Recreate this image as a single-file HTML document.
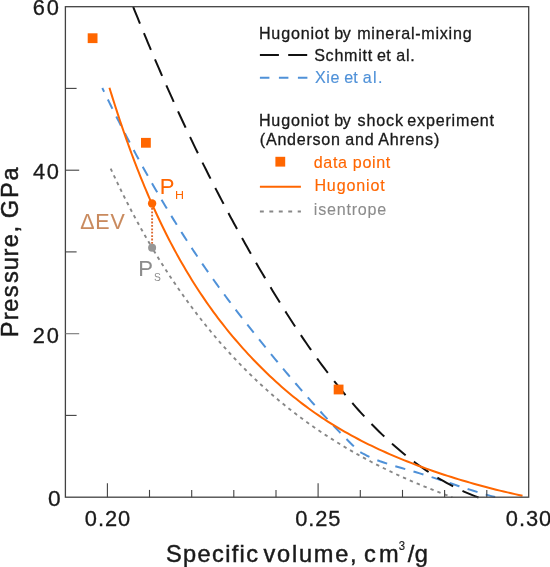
<!DOCTYPE html>
<html lang="en"><head><meta charset="utf-8"><title>Hugoniot chart</title>
<style>html,body{margin:0;padding:0;background:#fff}svg{display:block;will-change:transform}</style></head>
<body>
<svg width="550" height="567" viewBox="0 0 550 567" font-family="'Liberation Sans', Arial, Helvetica, sans-serif">
<rect width="550" height="567" fill="#ffffff"/>
<g fill="none" stroke-linejoin="round">
<path d="M110.69 168.53 L111.96 171.30 L113.24 174.06 L114.53 176.83 L115.83 179.59 L117.15 182.34 L118.47 185.10 L119.80 187.85 L121.15 190.60 L122.50 193.34 L123.87 196.08 L125.24 198.82 L126.63 201.56 L128.03 204.29 L129.43 207.02 L130.85 209.74 L132.28 212.46 L133.72 215.17 L135.18 217.89 L136.64 220.59 L138.11 223.29 L139.60 225.99 L141.09 228.68 L142.60 231.37 L144.12 234.05 L145.65 236.73 L147.19 239.40 L148.74 242.07 L150.30 244.73 L151.87 247.38" stroke="#888888" stroke-width="1.9" stroke-dasharray="3.4 4.05"/>
<path d="M151.87 247.38 L153.46 250.03 L155.05 252.67 L156.66 255.31 L158.28 257.94 L159.91 260.56 L161.55 263.17 L163.20 265.78 L164.86 268.38 L166.54 270.98 L168.22 273.57 L169.92 276.15 L171.63 278.72 L173.35 281.29 L175.08 283.84 L176.83 286.39 L178.58 288.93 L180.35 291.47 L182.13 293.99 L183.92 296.51 L185.72 299.02 L187.53 301.51 L189.35 304.00 L191.19 306.49 L193.04 308.96 L194.90 311.42 L196.77 313.87 L198.65 316.32 L200.55 318.75 L202.45 321.17 L204.37 323.59 L206.30 325.99 L208.25 328.38 L210.20 330.77 L212.17 333.14 L214.15 335.50 L216.14 337.85 L218.14 340.19 L220.15 342.52 L222.18 344.83 L224.22 347.14 L226.27 349.43 L228.33 351.72 L230.41 353.99 L232.49 356.25 L234.59 358.49 L236.70 360.73 L238.83 362.95 L240.96 365.16 L243.11 367.36 L245.27 369.54 L247.45 371.71 L249.63 373.87 L251.83 376.01 L254.04 378.15 L256.26 380.26 L258.50 382.37 L260.74 384.46 L263.00 386.54 L265.28 388.60 L267.56 390.65 L269.86 392.68 L272.17 394.70 L274.49 396.71 L276.83 398.70 L279.18 400.67 L281.54 402.64 L283.91 404.58 L286.30 406.51 L288.70 408.43 L291.11 410.33 L293.53 412.21 L295.97 414.08 L298.41 415.94 L300.87 417.77 L303.34 419.60 L305.82 421.41 L308.32 423.20 L310.82 424.98 L313.34 426.74 L315.86 428.49 L318.40 430.23 L320.95 431.95 L323.50 433.65 L326.07 435.34 L328.65 437.01 L331.23 438.67 L333.83 440.32 L336.44 441.95 L339.05 443.56 L341.68 445.16 L344.31 446.74 L346.95 448.31 L349.60 449.87 L352.26 451.41 L354.93 452.93 L357.61 454.44 L360.29 455.94 L362.98 457.42 L365.68 458.89 L368.39 460.34 L371.10 461.78 L373.82 463.20 L376.55 464.61 L379.29 466.00 L382.03 467.38 L384.78 468.74 L387.53 470.09 L390.29 471.43 L393.06 472.75 L395.83 474.05 L398.61 475.34 L401.40 476.62 L404.19 477.88 L406.98 479.13 L409.78 480.37 L412.59 481.58 L415.40 482.79 L418.21 483.98 L421.03 485.16 L423.85 486.32 L426.68 487.46 L429.51 488.60 L432.34 489.72 L435.18 490.82 L438.02 491.91 L440.87 492.99 L443.72 494.05 L446.57 495.10 L449.42 496.13 L452.28 497.15" stroke="#888888" stroke-width="1.9" stroke-dasharray="3.4 4.05" stroke-dashoffset="3.85"/>
<path d="M102.30 87.98 L103.68 90.87 L105.08 93.75 L106.47 96.62 L107.87 99.50 L109.28 102.37 L110.69 105.25 L112.11 108.11 L113.54 110.98 L114.96 113.84 L116.40 116.70 L117.84 119.56 L119.29 122.41 L120.74 125.27 L122.20 128.12 L123.66 130.96 L125.13 133.80 L126.61 136.64 L128.09 139.48 L129.58 142.31 L131.07 145.14 L132.57 147.97 L134.08 150.79 L135.59 153.61 L137.11 156.43 L138.63 159.24 L140.17 162.05 L141.70 164.85 L143.25 167.66 L144.80 170.45 L146.36 173.25 L147.92 176.04 L149.49 178.82 L151.07 181.61 L152.66 184.39 L154.25 187.16 L155.85 189.93 L157.45 192.70 L159.06 195.46 L160.68 198.21 L162.31 200.97 L163.94 203.72 L165.58 206.46 L167.23 209.20 L168.89 211.94 L170.55 214.67 L172.22 217.39 L173.89 220.11 L175.58 222.83 L177.27 225.54 L178.97 228.25 L180.68 230.95 L182.39 233.65 L184.12 236.34 L185.85 239.03 L187.58 241.71 L189.33 244.39 L191.08 247.06 L192.85 249.73 L194.62 252.39 L196.39 255.04 L198.18 257.69 L199.97 260.34 L201.77 262.98 L203.58 265.61 L205.40 268.24 L207.23 270.86 L209.06 273.48 L210.91 276.09 L212.76 278.69 L214.62 281.29 L216.49 283.89 L218.37 286.47 L220.25 289.06 L222.14 291.63 L224.04 294.20 L225.95 296.77 L227.86 299.33 L229.79 301.89 L231.71 304.44 L233.65 306.99 L235.59 309.53 L237.54 312.07 L239.49 314.60 L241.45 317.13 L243.41 319.65 L245.38 322.17 L247.36 324.69 L249.34 327.21 L251.32 329.71 L253.31 332.22 L255.30 334.72 L257.30 337.22 L259.31 339.72 L261.31 342.21 L263.33 344.69 L265.35 347.18 L267.37 349.66 L269.39 352.13 L271.42 354.61 L273.46 357.08 L275.50 359.54 L277.54 362.00 L279.59 364.46 L281.64 366.92 L283.69 369.37 L285.75 371.82 L287.81 374.26 L289.88 376.70 L291.95 379.14 L294.03 381.57 L296.11 384.00 L298.19 386.42 L300.28 388.84 L302.38 391.25 L304.48 393.66 L306.58 396.06 L308.70 398.46 L310.81 400.85 L312.94 403.24 L315.07 405.61 L317.21 407.99 L319.35 410.35 L321.50 412.71 L323.66 415.07 L325.82 417.41 L327.99 419.75 L330.17 422.08 L332.36 424.41 L334.55 426.72 L336.75 429.03 L338.96 431.33 L341.18 433.62 L343.41 435.91 L345.64 438.18 L347.89 440.45 L350.14 442.70 L352.40 444.95 L354.67 447.19 L356.95 449.42 L359.95 451.84 L363.14 453.74 L366.42 455.48 L369.77 457.09 L373.18 458.57 L376.64 459.95 L380.14 461.25 L383.68 462.47 L387.24 463.65 L390.82 464.80 L394.42 465.91 L398.02 467.00 L401.64 468.08 L405.26 469.14 L408.88 470.20 L412.50 471.26 L416.12 472.33 L419.74 473.41 L423.35 474.50 L426.95 475.62 L430.54 476.76 L434.12 477.91 L437.70 479.08 L441.27 480.25 L444.84 481.44 L448.41 482.62 L451.97 483.81 L455.54 485.00 L459.11 486.18 L462.68 487.36 L466.25 488.52 L469.83 489.67 L473.42 490.80 L477.02 491.91 L480.62 493.00 L484.24 494.06 L487.86 495.09 L491.50 496.09 L495.16 497.06" stroke="#4f91d8" stroke-width="2" stroke-dasharray="10.4 8.55" stroke-dashoffset="6.2"/>
<path d="M133.21 6.93 L134.66 10.53 L136.12 14.13 L137.58 17.72 L139.04 21.31 L140.51 24.90 L141.99 28.48 L143.47 32.07 L144.96 35.64 L146.45 39.22 L147.94 42.79 L149.45 46.36 L150.95 49.92 L152.47 53.48 L153.98 57.04 L155.51 60.59 L157.03 64.14 L158.57 67.69 L160.11 71.24 L161.65 74.78 L163.21 78.31 L164.76 81.85 L166.32 85.38 L167.89 88.90 L169.47 92.43 L171.05 95.95 L172.63 99.46 L174.23 102.98 L175.83 106.49 L177.43 109.99 L179.04 113.49 L180.66 116.99 L182.28 120.49 L183.91 123.98 L185.55 127.47 L187.19 130.95 L188.84 134.44 L190.49 137.91 L192.16 141.39 L193.82 144.86 L195.50 148.33 L197.18 151.79 L198.87 155.25 L200.57 158.71 L202.27 162.16 L203.98 165.61 L205.70 169.05 L207.42 172.50 L209.15 175.93 L210.89 179.37 L212.63 182.80 L214.39 186.23 L216.15 189.65 L217.91 193.07 L219.69 196.49 L221.47 199.90 L223.26 203.31 L225.06 206.72 L226.86 210.12 L228.67 213.52 L230.49 216.91 L232.32 220.30 L234.16 223.69 L236.00 227.07 L237.85 230.45 L239.71 233.83 L241.58 237.20 L243.45 240.57 L245.34 243.94 L247.23 247.30 L249.13 250.65 L251.04 254.01 L252.95 257.36 L254.88 260.70 L256.81 264.05 L258.75 267.38 L260.70 270.72 L262.66 274.05 L264.63 277.38 L266.60 280.70 L268.59 284.02 L270.58 287.34 L272.58 290.65 L274.59 293.95 L276.61 297.26 L278.64 300.55 L280.68 303.85 L282.73 307.13 L284.80 310.41 L286.87 313.69 L288.95 316.95 L291.05 320.21 L293.15 323.46 L295.27 326.71 L297.40 329.94 L299.55 333.17 L301.71 336.38 L303.88 339.59 L306.06 342.78 L308.26 345.97 L310.47 349.14 L312.70 352.31 L314.94 355.46 L317.20 358.60 L319.47 361.72 L321.76 364.84 L324.07 367.94 L326.39 371.02 L328.73 374.09 L331.08 377.15 L333.45 380.20 L335.84 383.22 L338.25 386.23 L340.68 389.23 L343.12 392.21 L345.59 395.17 L348.07 398.12 L350.57 401.04 L353.09 403.95 L355.64 406.84 L358.20 409.71 L360.78 412.57 L363.39 415.40 L366.01 418.21 L368.66 421.00 L371.33 423.77 L374.02 426.52 L376.73 429.24 L379.47 431.94 L382.23 434.61 L385.02 437.26 L387.83 439.88 L390.67 442.46 L393.53 445.02 L396.42 447.55 L399.34 450.04 L402.28 452.50 L405.25 454.93 L408.25 457.32 L411.28 459.67 L414.33 461.99 L417.42 464.27 L420.53 466.51 L423.68 468.70 L426.86 470.86 L430.07 472.97 L433.31 475.04 L436.58 477.07 L439.88 479.05 L443.22 480.98 L446.59 482.87 L450.00 484.70 L453.44 486.49 L456.91 488.22 L460.42 489.91 L463.97 491.54 L467.55 493.11 L471.17 494.63 L474.83 496.10 L478.52 497.51" stroke="#111111" stroke-width="2" stroke-dasharray="18 10.4"/>
<path d="M109.45 87.75 L110.58 91.45 L111.73 95.15 L112.89 98.85 L114.07 102.54 L115.25 106.24 L116.44 109.93 L117.64 113.62 L118.86 117.30 L120.09 120.99 L121.33 124.67 L122.58 128.35 L123.84 132.03 L125.12 135.70 L126.41 139.37 L127.72 143.03 L129.03 146.69 L130.37 150.34 L131.71 153.99 L133.07 157.64 L134.45 161.28 L135.84 164.91 L137.25 168.54 L138.67 172.16 L140.11 175.77 L141.56 179.38 L143.03 182.98 L144.51 186.57 L146.02 190.16 L147.54 193.74 L149.08 197.31 L150.63 200.87 L152.20 204.42 L153.79 207.97 L155.40 211.50 L157.03 215.03 L158.68 218.54 L160.35 222.05 L162.03 225.55 L163.74 229.03 L165.46 232.51 L167.21 235.97 L168.98 239.43 L170.76 242.87 L172.57 246.30 L174.40 249.72 L176.25 253.12 L178.12 256.52 L180.02 259.90 L181.93 263.26 L183.87 266.62 L185.84 269.96 L187.82 273.29 L189.83 276.60 L191.86 279.90 L193.92 283.18 L196.00 286.45 L198.10 289.71 L200.23 292.95 L202.39 296.17 L204.57 299.38 L206.77 302.57 L209.00 305.75 L211.26 308.91 L213.54 312.05 L215.85 315.18 L218.18 318.28 L220.54 321.37 L222.93 324.44 L225.34 327.50 L227.77 330.53 L230.23 333.54 L232.72 336.54 L235.23 339.51 L237.76 342.47 L240.32 345.40 L242.91 348.31 L245.51 351.20 L248.14 354.07 L250.80 356.91 L253.47 359.74 L256.18 362.54 L258.90 365.32 L261.65 368.07 L264.42 370.80 L267.21 373.50 L270.03 376.18 L272.87 378.84 L275.73 381.47 L278.62 384.07 L281.52 386.64 L284.45 389.19 L287.41 391.70 L290.38 394.19 L293.38 396.65 L296.41 399.08 L299.45 401.47 L302.52 403.84 L305.61 406.17 L308.73 408.47 L311.87 410.73 L315.03 412.96 L318.21 415.16 L321.42 417.33 L324.65 419.46 L327.90 421.55 L331.17 423.62 L334.46 425.65 L337.77 427.65 L341.10 429.62 L344.45 431.55 L347.82 433.46 L351.21 435.34 L354.61 437.18 L358.03 439.00 L361.47 440.78 L364.92 442.54 L368.39 444.27 L371.87 445.97 L375.37 447.65 L378.89 449.29 L382.41 450.91 L385.95 452.50 L389.50 454.07 L393.07 455.61 L396.64 457.13 L400.23 458.62 L403.83 460.08 L407.43 461.53 L411.05 462.94 L414.68 464.34 L418.31 465.71 L421.96 467.06 L425.61 468.38 L429.27 469.68 L432.93 470.97 L436.61 472.23 L440.29 473.47 L443.98 474.68 L447.67 475.88 L451.37 477.06 L455.08 478.22 L458.79 479.36 L462.51 480.47 L466.23 481.58 L469.96 482.66 L473.69 483.72 L477.42 484.76 L481.16 485.78 L484.90 486.79 L488.65 487.77 L492.40 488.74 L496.15 489.68 L499.91 490.61 L503.67 491.52 L507.44 492.40 L511.20 493.27 L514.97 494.12 L518.74 494.95 L522.52 495.76" stroke="#ff6600" stroke-width="2"/>
</g>
<g stroke="#424242" stroke-width="1.3" fill="none">
<rect x="65.4" y="6.7" width="463.3" height="490.5"/>
<line x1="107.4" y1="497.2" x2="107.4" y2="483.2" stroke-width="1.1"/>
<line x1="149.5" y1="497.2" x2="149.5" y2="489.9" stroke-width="1.1"/>
<line x1="191.7" y1="497.2" x2="191.7" y2="489.9" stroke-width="1.1"/>
<line x1="233.8" y1="497.2" x2="233.8" y2="489.9" stroke-width="1.1"/>
<line x1="276.0" y1="497.2" x2="276.0" y2="489.9" stroke-width="1.1"/>
<line x1="318.1" y1="497.2" x2="318.1" y2="483.2" stroke-width="1.1"/>
<line x1="360.3" y1="497.2" x2="360.3" y2="489.9" stroke-width="1.1"/>
<line x1="402.5" y1="497.2" x2="402.5" y2="489.9" stroke-width="1.1"/>
<line x1="444.6" y1="497.2" x2="444.6" y2="489.9" stroke-width="1.1"/>
<line x1="486.8" y1="497.2" x2="486.8" y2="489.9" stroke-width="1.1"/>
<line x1="65.4" y1="415.4" x2="76.6" y2="415.4" stroke-width="1.1"/>
<line x1="65.4" y1="333.7" x2="79.2" y2="333.7" stroke-width="1.1" stroke="#777"/>
<line x1="65.4" y1="251.9" x2="76.6" y2="251.9" stroke-width="1.1"/>
<line x1="65.4" y1="170.2" x2="79.2" y2="170.2" stroke-width="1.1"/>
<line x1="65.4" y1="88.4" x2="76.6" y2="88.4" stroke-width="1.1"/>
</g>
<rect x="87.7" y="33.3" width="9.8" height="9.8" fill="#ff6600"/>
<rect x="141.0" y="137.9" width="9.8" height="9.8" fill="#ff6600"/>
<rect x="333.7" y="384.6" width="9.8" height="9.8" fill="#ff6600"/>
<rect x="275.4" y="156.8" width="9.8" height="9.8" fill="#ff6600"/>
<line x1="152.1" y1="208" x2="152.1" y2="244" stroke="#dc6a30" stroke-width="1.9" stroke-dasharray="1.8 1.6"/>
<circle cx="152.1" cy="203.5" r="4.2" fill="#ff6600"/>
<circle cx="152.1" cy="247.7" r="4.0" fill="#969696"/>
<line x1="259.9" y1="55" x2="307.2" y2="55" stroke="#111111" stroke-width="1.8" stroke-dasharray="19 9.3"/>
<line x1="259.9" y1="77.8" x2="307.4" y2="77.8" stroke="#4f91d8" stroke-width="1.9" stroke-dasharray="9.5 9.5"/>
<line x1="259.9" y1="186.7" x2="300.9" y2="186.7" stroke="#ff6600" stroke-width="2"/>
<line x1="259.9" y1="211.5" x2="300.9" y2="211.5" stroke="#888888" stroke-width="1.8" stroke-dasharray="3.9 5.55"/>
<text transform="translate(32.71 14.80) scale(1.0300 1)" font-size="21.2" fill="#1a1a1a" stroke="#1a1a1a" stroke-width="0.3" letter-spacing="1.862">60</text>
<text transform="translate(32.96 178.50) scale(1.0300 1)" font-size="21.2" fill="#1a1a1a" stroke="#1a1a1a" stroke-width="0.3" letter-spacing="1.615">40</text>
<text transform="translate(32.71 342.60) scale(1.0300 1)" font-size="21.2" fill="#1a1a1a" stroke="#1a1a1a" stroke-width="0.3" letter-spacing="1.862">20</text>
<text transform="translate(47.99 505.60) scale(1.0711 1)" font-size="21.2" fill="#1a1a1a" stroke="#1a1a1a" stroke-width="0.3">0</text>
<text transform="translate(84.83 525.90) scale(1.0300 1)" font-size="21.2" fill="#1a1a1a" stroke="#1a1a1a" stroke-width="0.3" letter-spacing="0.895">0.20</text>
<text transform="translate(295.13 525.90) scale(1.0300 1)" font-size="21.2" fill="#1a1a1a" stroke="#1a1a1a" stroke-width="0.3" letter-spacing="0.931">0.25</text>
<text transform="translate(505.83 525.90) scale(1.0300 1)" font-size="21.2" fill="#1a1a1a" stroke="#1a1a1a" stroke-width="0.3" letter-spacing="0.895">0.30</text>
<text transform="translate(18.00 0) rotate(-90)" x="-337.19 -320.33 -311.74 -297.31 -282.91 -270.13 -256.43 -247.34 -232.42 -225.87 -218.18 -197.89 -180.44" font-size="23.6" fill="#1a1a1a" stroke="#1a1a1a" stroke-width="0.5">Pressure, GPa</text>
<text transform="translate(0 561.80)" font-size="23.6" fill="#1a1a1a" stroke="#1a1a1a" stroke-width="0.45"><tspan x="166.04" letter-spacing="1.336">Specific </tspan><tspan x="263.48" letter-spacing="1.754">volume, </tspan><tspan x="363.96" letter-spacing="3.372">cm</tspan></text>
<text transform="translate(398.65 550.40) scale(0.9243 1)" font-size="12.3" fill="#1a1a1a" stroke="#1a1a1a" stroke-width="0.15">3</text>
<text transform="translate(407.80 561.80) scale(1.0000 1)" font-size="23.6" fill="#1a1a1a" stroke="#1a1a1a" stroke-width="0.45" letter-spacing="0.428">/g</text>
<text transform="translate(0 38.60)" font-size="16.1" fill="#1a1a1a" stroke="#1a1a1a" stroke-width="0.3"><tspan x="258.91" letter-spacing="0.824">Hugoniot </tspan><tspan x="334.15" letter-spacing="-0.439">by </tspan><tspan x="357.15" letter-spacing="0.757">mineral-mixing</tspan></text>
<text transform="translate(0 61.20)" font-size="16.1" fill="#1a1a1a" stroke="#1a1a1a" stroke-width="0.3"><tspan x="314.18" letter-spacing="0.715">Schmitt </tspan><tspan x="376.96" letter-spacing="0.461">et </tspan><tspan x="396.16" letter-spacing="0.804">al.</tspan></text>
<text transform="translate(0 83.10)" font-size="16.1" fill="#4f91d8" stroke="#4f91d8" stroke-width="0.15"><tspan x="314.90" letter-spacing="0.681">Xie </tspan><tspan x="344.16" letter-spacing="0.162">et </tspan><tspan x="362.66" letter-spacing="1.354">al.</tspan></text>
<text transform="translate(0 126.20)" font-size="16.1" fill="#1a1a1a" stroke="#1a1a1a" stroke-width="0.3"><tspan x="258.91" letter-spacing="0.824">Hugoniot </tspan><tspan x="334.15" letter-spacing="-0.439">by </tspan><tspan x="357.52" letter-spacing="0.865">shock </tspan><tspan x="407.36" letter-spacing="0.790">experiment</tspan></text>
<text transform="translate(0 144.50)" font-size="16.1" fill="#1a1a1a" stroke="#1a1a1a" stroke-width="0.3"><tspan x="259.83" letter-spacing="0.739">(Anderson </tspan><tspan x="345.26" letter-spacing="0.842">and </tspan><tspan x="378.20" letter-spacing="0.786">Ahrens)</tspan></text>
<text transform="translate(313.76 167.50) scale(1.0000 1)" font-size="16.1" fill="#ff6600" stroke="#ff6600" stroke-width="0.12" letter-spacing="0.650">data point</text>
<text transform="translate(314.41 190.60) scale(1.0000 1)" font-size="16.1" fill="#ff6600" stroke="#ff6600" stroke-width="0.12" letter-spacing="0.838">Hugoniot</text>
<text transform="translate(313.85 215.00) scale(1.0000 1)" font-size="16.1" fill="#8c8c8c" stroke="#8c8c8c" stroke-width="0.1" letter-spacing="0.777">isentrope</text>
<text transform="translate(159.64 194.00) scale(1.0211 1)" font-size="21.6" fill="#ff6600" stroke="#ff6600" stroke-width="0.05">P</text>
<text transform="translate(175.00 198.60) scale(1.2019 1)" font-size="10.4" fill="#ff6600" stroke="#ff6600" stroke-width="0.0">H</text>
<text transform="translate(80.26 229.20) scale(1.0000 1)" font-size="21.4" fill="#c98a5e" stroke="#c98a5e" stroke-width="0.1" letter-spacing="0.824">ΔEV</text>
<text transform="translate(138.34 276.40) scale(1.0404 1)" font-size="21.2" fill="#8c8c8c" stroke="#8c8c8c" stroke-width="0.05">P</text>
<text transform="translate(154.04 281.20) scale(0.9772 1)" font-size="10.5" fill="#8c8c8c" stroke="#8c8c8c" stroke-width="0.0">S</text>
</svg>
</body></html>
